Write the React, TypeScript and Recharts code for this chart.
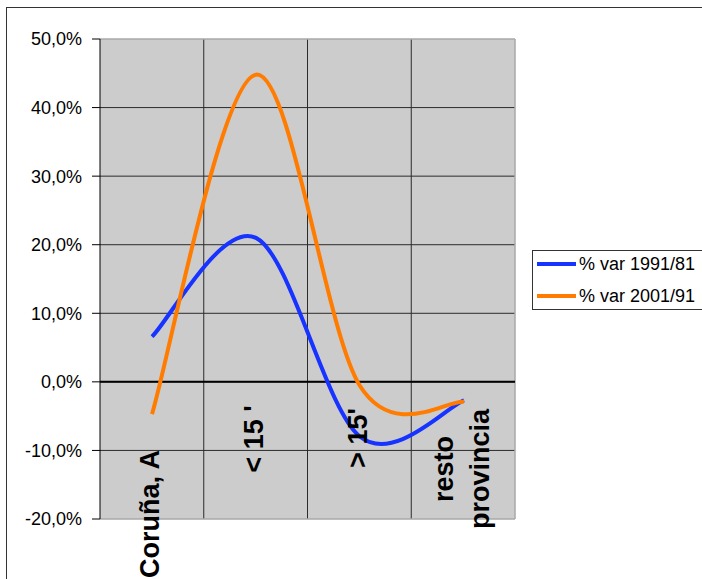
import React from "react";
import { CartesianGrid, Line, LineChart, ReferenceLine, XAxis, YAxis } from "recharts";

const categories = ["Coruña, A", "< 15 '", "> 15'", "resto\nprovincia"];
const var1991 = [6.6, 21.0, -8.0, -2.7];
const var2001 = [-4.7, 44.8, -0.6, -2.9];
const yTicks = [-20, -10, 0, 10, 20, 30, 40, 50];

const series = [
  { key: "v1991", name: "% var 1991/81", color: "#1733ff" },
  { key: "v2001", name: "% var 2001/91", color: "#ff7c00" }
];

const data = categories.map((name, i) => ({ name, v1991: var1991[i], v2001: var2001[i] }));

const font = "'Liberation Sans', Arial, sans-serif";

// Excel-style smoothing (Catmull-Rom through every point)
function excelSmooth(context: any) {
  let pts: number[][] = [];
  let area = NaN;
  return {
    areaStart() { area = 0; },
    areaEnd() { area = NaN; },
    lineStart() { pts = []; },
    lineEnd() {
      const n = pts.length;
      if (!n) return;
      if (area) context.lineTo(pts[0][0], pts[0][1]);
      else context.moveTo(pts[0][0], pts[0][1]);
      for (let i = 0; i < n - 1; i++) {
        const p0 = pts[Math.max(i - 1, 0)];
        const p1 = pts[i];
        const p2 = pts[i + 1];
        const p3 = pts[Math.min(i + 2, n - 1)];
        context.bezierCurveTo(
          p1[0] + (p2[0] - p0[0]) / 6, p1[1] + (p2[1] - p0[1]) / 6,
          p2[0] - (p3[0] - p1[0]) / 6, p2[1] - (p3[1] - p1[1]) / 6,
          p2[0], p2[1]
        );
      }
    },
    point(x: number, y: number) { pts.push([+x, +y]); }
  };
}

// label centres along the rotated text, measured up from the bottom of the plot
const labelLift = [5, 80, 81, 50];

function CategoryTick(props: any) {
  const { x, y, payload, index } = props;
  const lines = String(payload.value).split("\n");
  const cy = y - labelLift[index];
  return (
    <g>
      {lines.map((line, i) => {
        const px = x + 7 + (i - (lines.length - 1) / 2) * 36;
        return (
          <text key={i} x={px} y={cy} transform={`rotate(-90, ${px}, ${cy})`} textAnchor="middle"
            fontFamily={font} fontWeight="bold" fontSize={27} fill="#000">
            {line}
          </text>
        );
      })}
    </g>
  );
}

function LegendBox() {
  return (
    <svg width={172} height={62} style={{ position: "absolute", left: 531, top: 249 }}>
      <rect x={1.5} y={1.5} width={200} height={59} fill="#fff" stroke="#333" />
      {series.map((s, i) => (
        <g key={s.key}>
          <line x1={6} x2={45} y1={15 + i * 32} y2={15 + i * 32} stroke={s.color} strokeWidth={4} />
          <text x={48} y={15 + i * 32} dy="0.36em" fontFamily={font} fontSize={18} fill="#000">
            {s.name}
          </text>
        </g>
      ))}
    </svg>
  );
}

export default function App() {
  return (
    <div style={{ position: "absolute", left: 0, top: 0, width: 702, height: 579, background: "#fff", overflow: "hidden" }}>
      <div style={{ position: "absolute", left: 6, top: 7, width: 720, height: 600, borderLeft: "1px solid #333", borderTop: "1px solid #333" }} />
      <div style={{ position: "absolute", left: 0, top: 0 }}>
        <LineChart width={702} height={579} data={data} margin={{ top: 39, right: 187, bottom: 0, left: 40 }}>
          <CartesianGrid
            fill="#cccccc"
            fillOpacity={1}
            stroke="#2b2b2b"
            horizontalValues={yTicks.slice(1, -1)}
            verticalCoordinatesGenerator={({ offset }: any) =>
              [1, 2, 3].map((i) => offset.left + (offset.width * i) / categories.length)
            }
          />
          {/* light plot-area frame */}
          <CartesianGrid
            fill="none"
            stroke="#a8a8a8"
            strokeWidth={1.5}
            horizontalValues={[yTicks[0], yTicks[yTicks.length - 1]]}
            verticalCoordinatesGenerator={({ offset }: any) => [offset.left + offset.width]}
          />
          <XAxis
            dataKey="name"
            padding={{ left: 52, right: 51 }}
            height={60}
            interval={0}
            axisLine={false}
            tickLine={false}
            tickSize={0}
            tickMargin={0}
            tick={<CategoryTick />}
          />
          <YAxis
            width={60}
            domain={[-20, 50]}
            ticks={yTicks}
            interval={0}
            tickSize={8}
            tickMargin={10}
            axisLine={{ stroke: "#000" }}
            tickLine={{ stroke: "#000" }}
            tick={{ fill: "#000", fontSize: 18, fontFamily: font }}
            tickFormatter={(v: number) => `${v.toFixed(1).replace(".", ",")}%`}
          />
          <ReferenceLine y={0} stroke="#000" strokeWidth={2} />
          {series.map((s) => (
            <Line
              key={s.key}
              type={excelSmooth as any}
              dataKey={s.key}
              name={s.name}
              stroke={s.color}
              strokeWidth={4}
              dot={false}
              activeDot={false}
              isAnimationActive={false}
            />
          ))}
        </LineChart>
      </div>
      <LegendBox />
    </div>
  );
}
